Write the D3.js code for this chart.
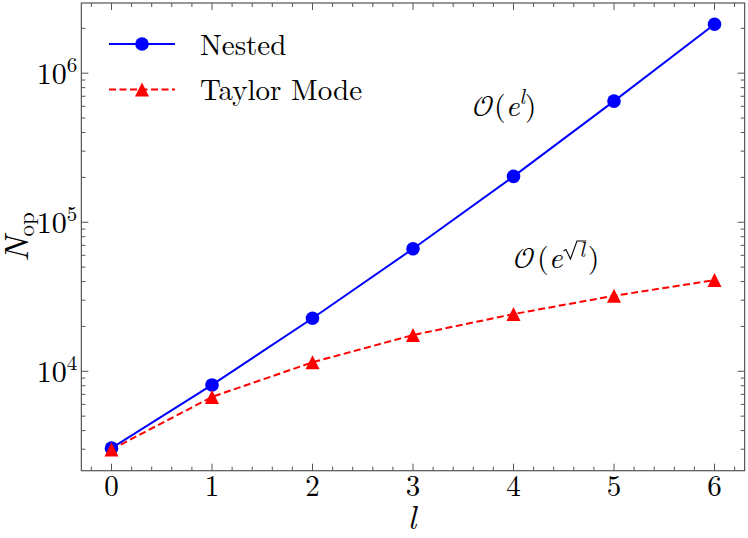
<!DOCTYPE html>
<html>
<head>
<meta charset="utf-8">
<script src="https://cdn.jsdelivr.net/npm/d3@7"></script>
</head>
<body style="margin:0;background:#fff">
<div id="graphicContainer"></div>
<script>
// data
var levels = [0, 1, 2, 3, 4, 5, 6]
var nested = [3050, 8100, 22700, 66400, 203000, 650000, 2130000]
var taylor = [2990, 6730, 11490, 17500, 24200, 32100, 40900]
var xTicks = [0, 1, 2, 3, 4, 5, 6]
var yTicks = [4, 5, 6]
var seriesNames = ["Nested", "Taylor Mode"]

var width = 748, height = 538
var margin = {top: 3, right: 3.35, bottom: 67.3, left: 81.35}
var serif = "'Latin Modern Roman', 'Liberation Serif', serif"
var mathFont = "'Latin Modern Math', 'STIX Two Math', serif"

var svg = d3.select("#graphicContainer").append("svg")
	.attr("width", width)
	.attr("height", height)
	.attr("font-family", serif)

var x = d3.scaleLinear()
	.domain([-0.3, 6.3])
	.range([margin.left, width - margin.right])

var y = d3.scaleLog()
	.domain([Math.pow(10, 3.333), Math.pow(10, 6.471)])
	.range([height - margin.bottom, margin.top])

var spine = "#555"
var x0 = x.range()[0], x1 = x.range()[1], y0 = y.range()[0], y1 = y.range()[1]

// ticks point inward on all four sides
var ticks = svg.append("g").attr("stroke", spine).attr("stroke-width", 1)
var xMinor = d3.range(-0.2, 6.3, 0.2).filter(d => Math.abs(d - Math.round(d)) > 0.01)

function vTick(xv, len) {
	ticks.append("line").attr("x1", x(xv)).attr("x2", x(xv)).attr("y1", y0).attr("y2", y0 - len)
	ticks.append("line").attr("x1", x(xv)).attr("x2", x(xv)).attr("y1", y1).attr("y2", y1 + len)
}
function hTick(yv, len) {
	ticks.append("line").attr("x1", x0).attr("x2", x0 + len).attr("y1", y(yv)).attr("y2", y(yv))
	ticks.append("line").attr("x1", x1).attr("x2", x1 - len).attr("y1", y(yv)).attr("y2", y(yv))
}
xTicks.forEach(d => vTick(d, 7))
xMinor.forEach(d => vTick(d, 4))

var yMinor = []
for (var e = 3; e <= 6; e++) {
	for (var m = 2; m <= 9; m++) {
		var v = m * Math.pow(10, e)
		if (v > y.domain()[0] && v < y.domain()[1]) yMinor.push(v)
	}
}
yTicks.forEach(p => hTick(Math.pow(10, p), 7))
yMinor.forEach(v => hTick(v, 4))

svg.append("rect")
	.attr("x", x0).attr("y", y1)
	.attr("width", x1 - x0).attr("height", y0 - y1)
	.attr("fill", "none").attr("stroke", spine).attr("stroke-width", 1.2)

// tick labels
svg.append("g").selectAll("text")
	.data(xTicks)
	.enter()
	.append("text")
	.attr("x", d => x(d))
	.attr("y", y0 + 25)
	.attr("text-anchor", "middle")
	.attr("font-size", 29)
	.text(d => d)

var yl = svg.append("g").selectAll("text")
	.data(yTicks)
	.enter()
	.append("text")
	.attr("x", x0 - 4)
	.attr("y", d => y(Math.pow(10, d)) + 11)
	.attr("text-anchor", "end")
	.attr("font-size", 30)
yl.append("tspan").text("10")
yl.append("tspan").attr("dy", -12).attr("font-size", 21).text(d => d)

// axis labels
svg.append("text")
	.attr("x", x(2.99))
	.attr("y", 529)
	.attr("text-anchor", "middle")
	.attr("font-size", 33)
	.attr("font-style", "italic")
	.text("l")

var ylab = svg.append("text")
	.attr("transform", "translate(28,237) rotate(-90)")
	.attr("text-anchor", "middle")
	.attr("font-size", 34)
ylab.append("tspan").attr("font-style", "italic").text("N")
ylab.append("tspan").attr("dy", 6).attr("font-size", 23).text("op")

// lines and markers
var line = d3.line().x((d, i) => x(levels[i])).y(d => y(d))
var tri = "M0,-7L7,7L-7,7Z"

svg.append("path")
	.datum(taylor)
	.attr("d", line)
	.attr("fill", "none")
	.attr("stroke", "#ff0000")
	.attr("stroke-width", 2)
	.attr("stroke-dasharray", "7,3.5")

svg.append("path")
	.datum(nested)
	.attr("d", line)
	.attr("fill", "none")
	.attr("stroke", "#0000ff")
	.attr("stroke-width", 2)

svg.append("g").selectAll("circle")
	.data(nested)
	.enter()
	.append("circle")
	.attr("cx", (d, i) => x(levels[i]))
	.attr("cy", d => y(d))
	.attr("r", 6.8)
	.attr("fill", "#0000ff")

svg.append("g").selectAll("path")
	.data(taylor)
	.enter()
	.append("path")
	.attr("d", tri)
	.attr("transform", (d, i) => "translate(" + x(levels[i]) + "," + y(d) + ")")
	.attr("fill", "#ff0000")

// legend
var leg = svg.append("g")
leg.append("line").attr("x1", 109).attr("x2", 175).attr("y1", 44).attr("y2", 44)
	.attr("stroke", "#0000ff").attr("stroke-width", 2)
leg.append("circle").attr("cx", 142).attr("cy", 44).attr("r", 6.8).attr("fill", "#0000ff")
leg.append("line").attr("x1", 109).attr("x2", 175).attr("y1", 89.5).attr("y2", 89.5)
	.attr("stroke", "#ff0000").attr("stroke-width", 2).attr("stroke-dasharray", "7,3.5")
leg.append("path").attr("d", tri).attr("transform", "translate(142,89.5)").attr("fill", "#ff0000")
leg.append("text").attr("x", 200).attr("y", 55).attr("font-size", 29).text(seriesNames[0])
leg.append("text").attr("x", 200).attr("y", 100).attr("font-size", 29).text(seriesNames[1])

// growth annotations
var a1 = svg.append("text").attr("x", 473).attr("y", 116).attr("font-size", 30)
a1.append("tspan").attr("font-family", mathFont).text("𝒪")
a1.append("tspan").text("(")
a1.append("tspan").attr("font-style", "italic").text("e")
a1.append("tspan").attr("dy", -12).attr("font-size", 21).attr("font-style", "italic").text("l")
a1.append("tspan").attr("dy", 12).text(")")

var a2Base = 268
var a2 = svg.append("text").attr("x", 514).attr("y", a2Base).attr("font-size", 30)
a2.append("tspan").attr("font-family", mathFont).text("𝒪")
a2.append("tspan").attr("dx", 2).text("(")
a2.append("tspan").attr("font-style", "italic").text("e")
var supL = a2.append("tspan").attr("dy", -11).attr("dx", 17).attr("font-size", 21)
	.attr("font-style", "italic").text("l")
a2.append("tspan").attr("dy", 11).attr("dx", 3).text(")")

// radical sign drawn by hand over the superscript l
var ext = supL.node().getExtentOfChar(0)
var lx = ext.x, lBase = a2Base - 11, lTop = lBase - 16
svg.append("path")
	.attr("d", "M" + (lx - 16) + "," + (lBase - 6) +
		"L" + (lx - 13.5) + "," + (lBase - 7.5) +
		"L" + (lx - 9) + "," + (lBase + 2) +
		"L" + (lx - 2.5) + "," + lTop +
		"L" + (lx + ext.width + 1.5) + "," + lTop)
	.attr("fill", "none")
	.attr("stroke", "#000")
	.attr("stroke-width", 1.1)
	.attr("stroke-linejoin", "miter")
</script>
</body>
</html>
